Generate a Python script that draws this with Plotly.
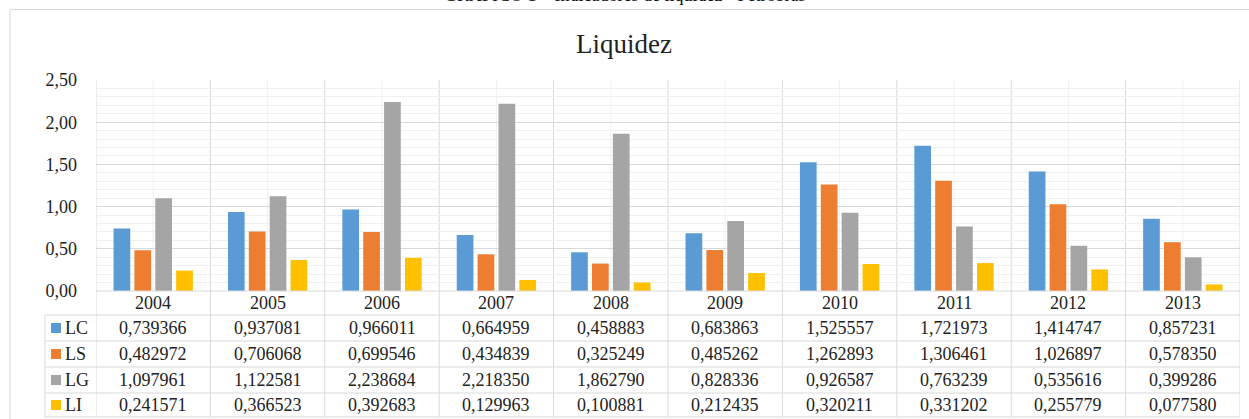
import plotly.graph_objects as go

# ---- data ----
years = ["2004", "2005", "2006", "2007", "2008", "2009", "2010", "2011", "2012", "2013"]
LC = [0.739366, 0.937081, 0.966011, 0.664959, 0.458883, 0.683863, 1.525557, 1.721973, 1.414747, 0.857231]
LS = [0.482972, 0.706068, 0.699546, 0.434839, 0.325249, 0.485262, 1.262893, 1.306461, 1.026897, 0.578350]
LG = [1.097961, 1.122581, 2.238684, 2.218350, 1.862790, 0.828336, 0.926587, 0.763239, 0.535616, 0.399286]
LI = [0.241571, 0.366523, 0.392683, 0.129963, 0.100881, 0.212435, 0.320211, 0.331202, 0.255779, 0.077580]
series_names = ["LC", "LS", "LG", "LI"]
series_values = [LC, LS, LG, LI]
colors = ["#5B9BD5", "#ED7D31", "#A5A5A5", "#FFC000"]
y_ticks = [0, 0.5, 1.0, 1.5, 2.0, 2.5]

# ---- layout geometry (pixels) ----
W, H = 1249, 419
L, R, T, B = 96, 9, 80, 128
PW, PH = W - L - R, H - T - B
FONT = "Times New Roman, Liberation Serif, serif"
GRID = "#d9d9d9"
GRID_MINOR = "#f0f0f0"


def px_x(px):
    return (px - L) / PW


def px_y(py):
    return (H - B - py) / PH


fig = go.Figure()
for name, vals, col in zip(series_names, series_values, colors):
    fig.add_trace(go.Bar(x=years, y=vals, name=name, marker=dict(color=col, line=dict(width=0)),
                         showlegend=False))

shapes = []
annotations = []

n = len(years)
axis_py = H - B
row_lines = [axis_py, 315, 341, 367, 393, 417]
row_centers = [(row_lines[i] + row_lines[i + 1]) / 2 for i in range(len(row_lines) - 1)]

# vertical minor lines at category centres (inside plot)
for i in range(n):
    shapes.append(dict(type="line", xref="x", yref="paper", x0=i, x1=i, y0=0, y1=1,
                       line=dict(color=GRID_MINOR, width=1), layer="below"))
# vertical boundary lines (plot + table)
for i in range(n + 1):
    shapes.append(dict(type="line", xref="x", yref="paper", x0=i - 0.5, x1=i - 0.5,
                       y0=px_y(row_lines[-1]), y1=1, line=dict(color=GRID, width=1), layer="below"))
# legend column left border
shapes.append(dict(type="line", xref="paper", yref="paper", x0=px_x(45), x1=px_x(45),
                   y0=px_y(row_lines[-1]), y1=px_y(row_lines[1]), line=dict(color=GRID, width=1)))
# horizontal table lines
for k, py in enumerate(row_lines):
    x0 = px_x(L) if k == 0 else px_x(45)
    shapes.append(dict(type="line", xref="paper", yref="paper", x0=x0, x1=1, y0=px_y(py), y1=px_y(py),
                       line=dict(color=GRID, width=1)))
# outer chart border
shapes.append(dict(type="rect", xref="paper", yref="paper", x0=px_x(10), x1=px_x(1260),
                   y0=px_y(430), y1=px_y(9.5), line=dict(color=GRID, width=1), fillcolor="rgba(0,0,0,0)"))

# year header row
for i, yr in enumerate(years):
    annotations.append(dict(x=i, xref="x", y=px_y(row_centers[0]), yref="paper", text=yr,
                            showarrow=False, xanchor="center", yanchor="middle",
                            font=dict(family=FONT, size=18, color="#222")))
# data rows
for r, (name, vals, col) in enumerate(zip(series_names, series_values, colors)):
    cy = row_centers[r + 1]
    shapes.append(dict(type="rect", xref="paper", yref="paper", x0=px_x(51), x1=px_x(61),
                       y0=px_y(cy + 5), y1=px_y(cy - 5), fillcolor=col, line=dict(width=0)))
    annotations.append(dict(x=px_x(63), xref="paper", y=px_y(cy), yref="paper", text=name,
                            showarrow=False, xanchor="left", yanchor="middle",
                            font=dict(family=FONT, size=18, color="#222")))
    for i, v in enumerate(vals):
        annotations.append(dict(x=i, xref="x", y=px_y(cy), yref="paper",
                                text=f"{v:.6f}".replace(".", ","), showarrow=False,
                                xanchor="center", yanchor="middle",
                                font=dict(family=FONT, size=18, color="#222")))

# titles
annotations.append(dict(x=px_x(624), xref="paper", y=px_y(44), yref="paper", text="Liquidez",
                        showarrow=False, xanchor="center", yanchor="middle",
                        font=dict(family=FONT, size=27, color="#222")))
annotations.append(dict(x=px_x(624), xref="paper", y=px_y(-6), yref="paper",
                        text="GRÁFICO 1 – Indicadores de liquidez - Petrobras",
                        showarrow=False, xanchor="center", yanchor="middle",
                        font=dict(family=FONT, size=18, color="#111")))

fig.update_layout(
    width=W, height=H,
    margin=dict(l=L, r=R, t=T, b=B, pad=0, autoexpand=False),
    paper_bgcolor="white", plot_bgcolor="white",
    barmode="group", bargap=0.27, bargroupgap=0.2,
    separators=",.",
    shapes=shapes, annotations=annotations,
    xaxis=dict(type="category", showticklabels=False, showgrid=False, zeroline=False,
               showline=False, range=[-0.5, n - 0.5], fixedrange=True),
    yaxis=dict(range=[0, 2.5], tickvals=y_ticks, tickformat=".2f", showgrid=True, gridcolor=GRID,
               gridwidth=1, zeroline=False, showline=False, ticks="", ticklabelstandoff=18,
               tickfont=dict(family=FONT, size=18, color="#222"),
               minor=dict(dtick=0.1, showgrid=True, gridcolor=GRID_MINOR, gridwidth=1),
               fixedrange=True),
)

fig.write_html("out.html", config={"displayModeBar": False},
               post_script="document.body.style.margin='0px';")
